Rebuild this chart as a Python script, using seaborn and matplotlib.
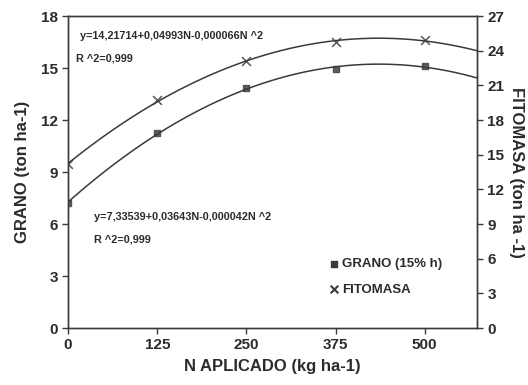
import matplotlib
matplotlib.use("Agg")
import matplotlib.pyplot as plt
import seaborn as sns
import pandas as pd

n_aplicado = [0, 125, 250, 375, 500]
grano = [7.23, 11.25, 13.85, 14.93, 15.12]
fitomasa = [14.2, 19.7, 23.1, 24.8, 24.9]

x_ticks = [0, 125, 250, 375, 500]
left_ticks = [0, 3, 6, 9, 12, 15, 18]
right_ticks = [0, 3, 6, 9, 12, 15, 18, 21, 24, 27]

eq_fito = "y=14,21714+0,04993N-0,000066N ^2"
eq_grano = "y=7,33539+0,03643N-0,000042N ^2"
r2_text = "R ^2=0,999"

sns.set_style("ticks")
plt.rcParams['font.family'] = ['Liberation Sans', 'DejaVu Sans']
plt.rcParams['font.weight'] = 'bold'

TXT = '#2b2b2b'
LINE = '#3a3a3a'

df = pd.DataFrame({"N": n_aplicado, "grano": grano, "fitomasa": fitomasa})

fig = plt.figure(figsize=(5.28, 3.85), dpi=100)
ax = fig.add_axes([0.129, 0.148, 0.774, 0.810])
ax2 = ax.twinx()
ax.set_xlim(0, 573)
ax2.set_xlim(0, 573)
ax.set_ylim(0, 18)
ax2.set_ylim(0, 27)

sns.regplot(data=df, x="N", y="grano", order=2, ci=None, truncate=False, ax=ax,
            marker='s', scatter_kws=dict(s=18, color=LINE),
            line_kws=dict(color=LINE, lw=1.1))
sns.regplot(data=df, x="N", y="fitomasa", order=2, ci=None, truncate=False, ax=ax2,
            marker='x', scatter_kws=dict(s=40, color=LINE, linewidths=1.2),
            line_kws=dict(color=LINE, lw=1.1))

ax.set_xlim(0, 573)
ax2.set_xlim(0, 573)
ax.set_ylim(0, 18)
ax2.set_ylim(0, 27)
ax.set_xticks(x_ticks)
ax.set_yticks(left_ticks)
ax2.set_yticks(right_ticks)

for a in (ax, ax2):
    for s in a.spines.values():
        s.set_color(LINE)
        s.set_linewidth(1.0)
    a.tick_params(colors=LINE, labelcolor=TXT, labelsize=11, length=4, width=1.0, direction='out')
    for lab in a.get_xticklabels() + a.get_yticklabels():
        lab.set_fontweight('bold')

ax.set_xlabel("N APLICADO (kg ha-1)", fontsize=12, fontweight='bold', color=TXT, labelpad=5)
ax.set_ylabel("GRANO (ton ha-1)", fontsize=12, fontweight='bold', color=TXT, labelpad=8)
ax2.set_ylabel("FITOMASA (ton ha -1)", fontsize=12, fontweight='bold', color=TXT,
               rotation=-90, labelpad=14)

fs = 7.8
ax.text(0.03, 0.935, eq_fito, transform=ax.transAxes, fontsize=fs, fontweight='bold', color=TXT, va='center')
ax.text(0.02, 0.865, r2_text, transform=ax.transAxes, fontsize=fs, fontweight='bold', color=TXT, va='center')
ax.text(0.063, 0.357, eq_grano, transform=ax.transAxes, fontsize=fs, fontweight='bold', color=TXT, va='center')
ax.text(0.063, 0.284, r2_text, transform=ax.transAxes, fontsize=fs, fontweight='bold', color=TXT, va='center')

# legend
ax.scatter([], [], marker='s', s=14, color=LINE, label="GRANO (15% h)")
ax.scatter([], [], marker='x', s=30, color=LINE, label="FITOMASA")
h, l = ax.get_legend_handles_labels()
h, l = h[-2:], l[-2:]
leg = ax.legend(h, l, loc='lower right', bbox_to_anchor=(0.945, 0.065), frameon=False,
                prop=dict(size=9.5, weight='bold'), handletextpad=0.25, labelspacing=1.0,
                handlelength=0.8, markerscale=1.0)
for t in leg.get_texts():
    t.set_color(TXT)

fig.savefig("out.png", dpi=100)
